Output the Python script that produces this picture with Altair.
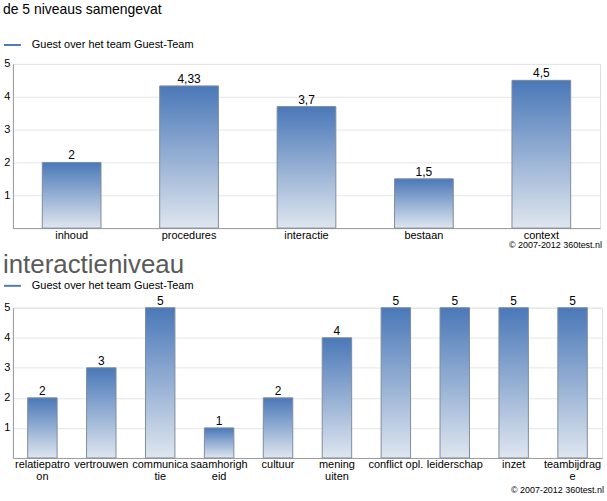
import altair as alt
import pandas as pd

# --- data ---
levels = ["inhoud", "procedures", "interactie", "bestaan", "context"]
level_scores = [2, 4.33, 3.7, 1.5, 4.5]

inter_items = ["relatiepatroon", "vertrouwen", "communicatie", "saamhorigheid", "cultuur",
               "mening uiten", "conflict opl.", "leiderschap", "inzet", "teambijdrage"]
inter_labels = ["relatiepatro\non", "vertrouwen", "communica\ntie", "saamhorigh\neid", "cultuur",
                "mening\nuiten", "conflict opl.", "leiderschap", "inzet", "teambijdrag\ne"]
inter_scores = [2, 3, 5, 1, 2, 4, 5, 5, 5, 5]

series_name = "Guest over het team Guest-Team"
copyright_text = "© 2007-2012 360test.nl"

FONT = "Liberation Sans"
gradient = alt.LinearGradient(
    gradient="linear", x1=0, y1=0, x2=0, y2=1,
    stops=[alt.GradientStop(color="#4a78b8", offset=0),
           alt.GradientStop(color="#dfe6ef", offset=1)],
)


def make_panel(cats, labels, vals, w, h, title, leg_y, cp_y):
    df = pd.DataFrame({"cat": cats, "label": labels, "value": vals})
    label_map = {c: l for c, l in zip(cats, labels)}
    expr = "{" + ",".join(f"'{c}': '{l}'" for c, l in label_map.items()).replace("\n", "\\n") + "}"
    base = alt.Chart(df).encode(
        x=alt.X("cat:N", sort=cats, title=None,
                scale=alt.Scale(paddingInner=0.5, paddingOuter=0.25),
                axis=alt.Axis(labelAngle=0, ticks=False, domainColor="#9a9a9a",
                              labelColor="#000", labelFontSize=11, labelFont=FONT,
                              labelPadding=1, labelLineHeight=12,
                              labelExpr="split(" + expr + "[datum.label], '\\n')")),
        y=alt.Y("value:Q", title=None,
                scale=alt.Scale(domain=[0, 5], nice=False),
                axis=alt.Axis(values=[1, 2, 3, 4, 5], ticks=False, domainColor="#9a9a9a",
                              gridColor="#e6e6e6", labelColor="#000", labelFontSize=11,
                              labelFont=FONT, labelPadding=3)),
    )
    bars = base.mark_bar(fill=gradient, stroke="#7f8c9c", strokeWidth=1)
    text = base.transform_calculate(
        lbl="replace(toString(datum.value), '.', ',')"
    ).mark_text(dy=-7, fontSize=12, font=FONT, color="#000").encode(text="lbl:N")
    one = pd.DataFrame({"t": [series_name]})
    leg_line = alt.Chart(one).mark_rule(color="#4f7bbd", strokeWidth=2).encode(
        x=alt.value(-9), x2=alt.value(8), y=alt.value(leg_y))
    leg_text = alt.Chart(one).mark_text(align="left", baseline="middle", fontSize=11,
                                        font=FONT, color="#000").encode(
        x=alt.value(19), y=alt.value(leg_y), text="t:N")
    cp = pd.DataFrame({"t": [copyright_text]})
    cp_text = alt.Chart(cp).mark_text(align="right", baseline="middle", fontSize=9,
                                      font=FONT, color="#000").encode(
        x=alt.value(w + 2), y=alt.value(h + cp_y), text="t:N")
    return alt.layer(bars, text, leg_line, leg_text, cp_text).properties(
        width=w, height=h, title=title)


top = make_panel(levels, levels, level_scores, 590, 165,
                 alt.TitleParams("de 5 niveaus samengevat", anchor="start", fontSize=14,
                                 fontWeight="normal", font=FONT, color="#000", offset=22),
                 -19, 17)
bottom = make_panel(inter_items, inter_labels, inter_scores, 592, 151,
                    alt.TitleParams("interactieniveau", anchor="start", fontSize=26,
                                    fontWeight="normal", font=FONT, color="#5a5a5a",
                                    offset=2),
                    -22, 32)

chart = alt.vconcat(top, bottom, spacing=0).properties(
    padding={"left": 2, "top": 1, "right": 2, "bottom": 2}
).configure_view(stroke=None).configure(background="#ffffff")

chart.save("out.html", embed_options={"renderer": "svg", "actions": False})
